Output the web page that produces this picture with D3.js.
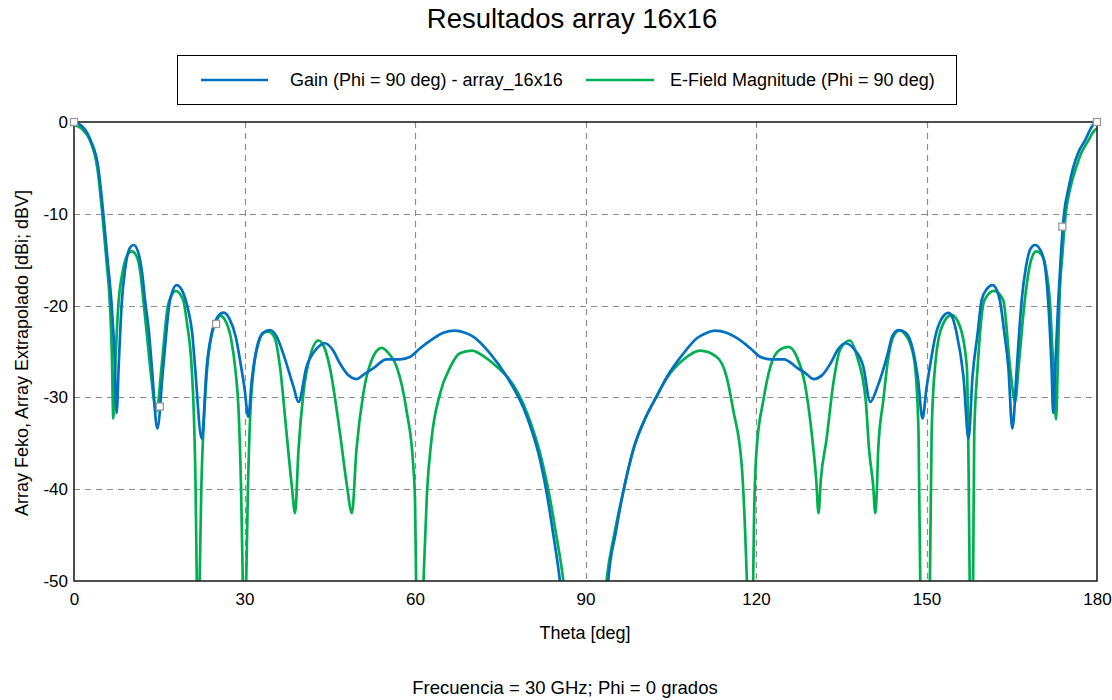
<!DOCTYPE html>
<html>
<head>
<meta charset="utf-8">
<script src="https://cdn.jsdelivr.net/npm/d3@7"></script>
<style>
  html, body { margin: 0; padding: 0; background: #fff; }
  svg { display: block; font-family: "Liberation Sans", Arial, sans-serif; }
</style>
</head>
<body>
<svg id="chart" width="1112" height="700"></svg>
<script>
// Radiation pattern cut, theta in degrees, level in dB
const gainPattern = [
  [0,0],[1.5,-0.5],[2.93,-2],[4.28,-5],[5.16,-10],[5.9,-15],[6.63,-20],[7.1,-25],[7.5,-31.7],
  [7.9,-26],[8.4,-19.7],[9.0,-16],[9.85,-13.7],[10.5,-13.4],[11.3,-14.2],[12.0,-16.5],[12.5,-19.4],
  [13.2,-23],[13.7,-26.7],[14.66,-33.4],[15.7,-26.7],[16.9,-19.4],[18.07,-17.76],[19.2,-18.6],
  [20.1,-20.5],[20.8,-23],[21.3,-26.7],[22.47,-34.5],[23.35,-26.7],[24.5,-22.3],[25.3,-21.2],
  [26.3,-20.77],[27.4,-21.5],[28.5,-23.5],[29.2,-25.9],[30.0,-29],[30.67,-32.1],[31.3,-28],
  [32.1,-24.8],[33.2,-23],[34.5,-22.66],[35.6,-23.3],[36.8,-25.2],[38.6,-28.8],[39.5,-30.5],
  [40.9,-26.7],[42.7,-24.7],[44.2,-24.1],[45.5,-24.8],[46.8,-26.3],[48.3,-27.6],[49.7,-28],
  [51.2,-27.4],[52.7,-26.8],[55,-25.85],[57.4,-25.85],[59.1,-25.6],[60.9,-24.65],[63.2,-23.6],
  [65,-22.95],[67,-22.73],[68.8,-22.95],[70.3,-23.4],[73.2,-25.2],[76.1,-27.7],[79.7,-32.1],
  [82,-36.8],[83.2,-40.5],[84.3,-44.8],[85.5,-50],[86.6,-57],
  [93.3,-57],[94.0,-50],[95.3,-44.8],[96.7,-40.1],[98.5,-35.5],[100.5,-32.3],[102.5,-29.9],
  [104.3,-27.8],[107,-25.4],[109.7,-23.5],[111.2,-23.0],[112.8,-22.73],[114.8,-22.95],
  [116.8,-23.6],[119,-24.65],[120.8,-25.6],[122.6,-25.85],[124.9,-25.85],[127.3,-26.8],
  [128.8,-27.4],[130.1,-28],[131.6,-27.6],[133.1,-26.3],[134.4,-24.8],[135.7,-24.1],
  [137.2,-24.7],[138.9,-26.7],[140.1,-30.5],[141.4,-28.8],[143.2,-25.2],[144,-23.3],
  [145.05,-22.66],[146.4,-23],[147.6,-24.8],[148.5,-28],[149.3,-32.3],[150.0,-29],[150.8,-25.9],
  [151.5,-23.5],[152.6,-21.5],[153.85,-20.8],[154.5,-21.2],[155.3,-23],[156.5,-27.7],
  [157.4,-34.5],[158.1,-27.7],[159,-23],[159.7,-19.4],[160.6,-18.2],[161.65,-17.76],
  [162.9,-19.4],[163.7,-23],[164.4,-26.7],[165.1,-33.4],[165.9,-26.7],[166.3,-23],
  [166.75,-19.4],[167.5,-15.8],[168.3,-13.8],[169.1,-13.4],[170,-13.9],[170.8,-15.5],
  [171.4,-19.4],[172,-26.7],[172.3,-31.7],[172.7,-26],[173.2,-19.4],[173.6,-15],[174.2,-10],
  [175,-7.2],[175.8,-5],[176.8,-3.2],[177.9,-2],[179,-0.6],[179.5,-0.15],[180,0]
];

const efieldPattern = [
  [0,-0.3],[1.5,-0.8],[2.8,-2],[4.1,-5],[4.98,-10],[5.7,-15],[6.33,-20],[6.65,-25],[6.92,-32.3],
  [7.3,-26],[7.8,-20],[8.5,-16.5],[9.3,-14.6],[10.15,-14.1],[11,-14.6],[11.7,-16.5],[12.2,-19.4],
  [12.8,-23],[13.4,-26.7],[14.55,-31.5],[15.4,-26.7],[16.6,-19.8],[17.9,-18.4],[19.2,-19.4],
  [19.9,-22],[20.7,-26.7],[21.1,-32],[21.4,-40],[21.6,-50],[21.85,-62],[22.1,-50],[22.4,-40],
  [22.9,-32],[23.4,-27],[24.3,-23],[25,-21.8],[25.7,-21.1],[26.6,-21.6],[27.6,-23.5],[28.4,-27],
  [29,-32],[29.4,-40],[29.7,-50],[30.0,-62],[30.3,-50],[30.6,-40],[31,-32],[31.6,-27],[32.5,-24],
  [33.3,-23],[34.2,-22.84],[35.3,-23.5],[36.25,-26.7],[37.4,-33.9],[38.3,-39.5],[38.9,-42.6],
  [39.5,-35.7],[40.35,-29.6],[41.5,-25.6],[43,-23.8],[44,-24.5],[45,-26.7],[46.8,-33.9],
  [48,-39.5],[48.9,-42.6],[49.7,-35.7],[50.9,-29.6],[52.4,-25.9],[54.1,-24.6],[55.5,-25.3],
  [56.8,-26.7],[58.5,-31.4],[59.7,-37.5],[60.0,-41.2],[60.2,-50],[60.85,-62],[61.5,-50],
  [62.1,-40.5],[62.9,-34.6],[64.4,-29.6],[66.2,-26.7],[67.9,-25.2],[70,-24.9],[72.6,-25.75],
  [75,-27.0],[76.3,-27.8],[79.9,-32.0],[82.3,-36.8],[83.6,-40.5],[84.8,-44.8],[86.1,-50],[87.2,-57],
  [92.8,-57],[93.7,-50],[95.1,-44.8],[96.7,-40.1],[98.5,-35.5],[100.5,-32.3],[102.5,-29.9],
  [104.3,-27.9],[107.2,-25.9],[110.2,-24.9],[113.1,-25.6],[114.8,-27.7],[116,-31.4],
  [117.5,-37.5],[118.1,-44.8],[118.4,-50],[118.95,-62],[119.5,-50],[119.65,-43.4],[120.1,-35.7],
  [121.3,-30.3],[122.5,-26.7],[124.2,-24.8],[125.7,-24.5],[127.2,-25.6],[128.6,-28.5],
  [129.8,-33.9],[130.6,-39],[131,-42.6],[131.4,-39],[132.4,-34.6],[133.6,-28.5],[134.8,-24.8],
  [136.5,-23.8],[137.8,-25.6],[139.3,-30.3],[139.9,-35.7],[140.6,-39.5],[141,-42.6],
  [141.3,-39.5],[141.5,-35.7],[142.4,-30.3],[143.3,-25.6],[144.3,-23.2],[145.3,-22.7],
  [146.3,-23.2],[147.1,-24.1],[148,-26.7],[148.6,-33.9],[148.9,-50],[149.75,-62],[150.6,-50],
  [150.9,-33.9],[151.5,-26.7],[152.7,-22.3],[154.4,-21],[155.9,-22.3],[157.1,-26.7],
  [157.4,-37.5],[157.6,-50],[157.9,-62],[158.2,-50],[158.4,-33.9],[159,-26.7],[160.2,-19.4],
  [161.9,-18.4],[163.5,-19.4],[164.7,-26.7],[165.6,-30.5],[166.2,-26.7],[167.3,-19.4],
  [168.3,-15.3],[169.3,-14.1],[170.3,-14.5],[171.1,-16.3],[171.7,-19.4],[172.3,-26.7],
  [172.8,-32.4],[173.1,-26.5],[173.4,-19.4],[173.9,-14.5],[174.5,-10],[175.3,-7.2],[176.3,-5],
  [177.3,-3.3],[178.5,-2],[179.3,-1.1],[180,-0.7]
];

// Marker points placed on the cut
const markerPoints = [[0,0],[15.1,-31],[25,-22],[173.9,-11.4],[180,0]];

const thetaTicks = [0, 30, 60, 90, 120, 150, 180];
const levelTicks = [0, -10, -20, -30, -40, -50];
const levelTickLabels = ["0", "-10", "-20", "-30", "-40", "-50"];

const seriesNames = ["Gain (Phi = 90 deg) - array_16x16", "E-Field Magnitude (Phi = 90 deg)"];
const seriesColors = ["#0070C0", "#00B050"];

const svg = d3.select("#chart");
const plot = { left: 74, right: 1097, top: 122, bottom: 581 };

const x = d3.scaleLinear().domain([0, 180]).range([plot.left, plot.right]);
const y = d3.scaleLinear().domain([-50, 0]).range([plot.bottom, plot.top]);

// Title
svg.append("text")
  .attr("x", 572).attr("y", 28)
  .attr("text-anchor", "middle")
  .attr("font-size", 27.5)
  .attr("fill", "#000")
  .text("Resultados array 16x16");

// Legend
const legend = svg.append("g");
legend.append("rect")
  .attr("x", 177.5).attr("y", 55.5).attr("width", 779).attr("height", 49)
  .attr("fill", "#fff").attr("stroke", "#000").attr("stroke-width", 1);
const legendItems = [
  { x1: 201, x2: 268, tx: 290 },
  { x1: 586, x2: 654, tx: 670 }
];
legendItems.forEach((it, i) => {
  legend.append("line")
    .attr("x1", it.x1).attr("x2", it.x2).attr("y1", 80).attr("y2", 80)
    .attr("stroke", seriesColors[i]).attr("stroke-width", 2.5);
  legend.append("text")
    .attr("x", it.tx).attr("y", 86)
    .attr("font-size", 18).attr("fill", "#000")
    .text(seriesNames[i]);
});

// Grid
const grid = svg.append("g")
  .attr("stroke", "#8c8c8c").attr("stroke-width", 1.2).attr("stroke-dasharray", "6,5");
grid.selectAll("line.v")
  .data(thetaTicks.filter(t => t > 0 && t < 180))
  .join("line")
  .attr("class", "v")
  .attr("x1", d => Math.round(x(d)) + 0.5).attr("x2", d => Math.round(x(d)) + 0.5)
  .attr("y1", plot.top).attr("y2", plot.bottom);
grid.selectAll("line.h")
  .data(levelTicks.filter(t => t < 0 && t > -50))
  .join("line")
  .attr("class", "h")
  .attr("x1", plot.left).attr("x2", plot.right)
  .attr("y1", d => Math.round(y(d)) + 0.5).attr("y2", d => Math.round(y(d)) + 0.5);

// Curves
svg.append("defs").append("clipPath").attr("id", "plotClip")
  .append("rect").attr("x", plot.left).attr("y", plot.top - 4)
  .attr("width", plot.right - plot.left).attr("height", plot.bottom - plot.top + 4);

const line = d3.line()
  .x(d => x(d[0])).y(d => y(d[1]))
  .curve(d3.curveMonotoneX);

const curves = svg.append("g").attr("clip-path", "url(#plotClip)");
[[efieldPattern, seriesColors[1]], [gainPattern, seriesColors[0]]].forEach(([data, color]) => {
  curves.append("path")
    .datum(data)
    .attr("fill", "none")
    .attr("stroke", color)
    .attr("stroke-width", 2.7)
    .attr("stroke-linejoin", "round")
    .attr("d", line);
});

// Frame
svg.append("rect")
  .attr("x", plot.left).attr("y", plot.top)
  .attr("width", plot.right - plot.left).attr("height", plot.bottom - plot.top)
  .attr("fill", "none").attr("stroke", "#222").attr("stroke-width", 1.6);

// Axes
const xAxis = svg.append("g")
  .attr("transform", `translate(0,${plot.bottom})`)
  .call(d3.axisBottom(x).tickValues(thetaTicks).tickSize(0).tickPadding(12).tickFormat(d3.format("d")));
const yAxis = svg.append("g")
  .attr("transform", `translate(${plot.left},0)`)
  .call(d3.axisLeft(y).tickValues(levelTicks).tickSize(0).tickPadding(6)
    .tickFormat((d, i) => levelTickLabels[i]));
[xAxis, yAxis].forEach(g => {
  g.select(".domain").remove();
  g.selectAll("text")
    .attr("font-family", "\"Liberation Sans\", Arial, sans-serif")
    .attr("font-size", 17).attr("fill", "#000");
});

// Markers
svg.append("g").selectAll("rect")
  .data(markerPoints)
  .join("rect")
  .attr("x", d => x(d[0]) - 3.5).attr("y", d => y(d[1]) - 3.5)
  .attr("width", 7).attr("height", 7)
  .attr("fill", "#fff").attr("stroke", "#999").attr("stroke-width", 1.3);

// Axis titles and footer
svg.append("text")
  .attr("x", 585).attr("y", 639)
  .attr("text-anchor", "middle").attr("font-size", 18)
  .text("Theta [deg]");
svg.append("text")
  .attr("transform", "translate(28,353) rotate(-90)")
  .attr("text-anchor", "middle").attr("font-size", 18)
  .text("Array Feko, Array Extrapolado [dBi; dBV]");
svg.append("text")
  .attr("x", 565).attr("y", 694)
  .attr("text-anchor", "middle").attr("font-size", 18.5)
  .text("Frecuencia = 30 GHz; Phi = 0 grados");
</script>
</body>
</html>
